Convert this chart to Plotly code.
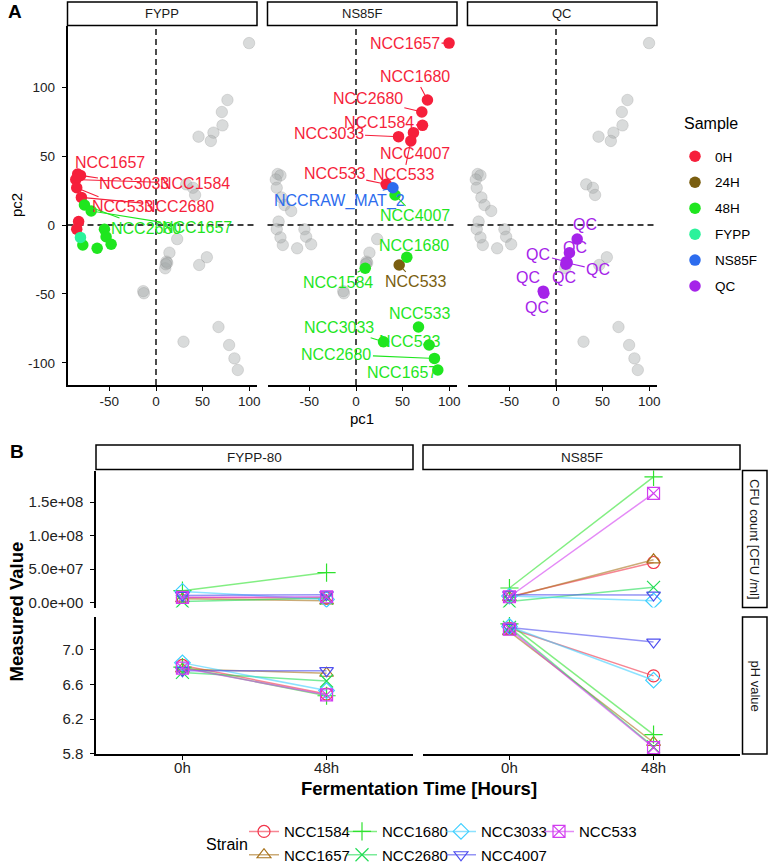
import plotly.graph_objects as go

W, H = 768, 864
FONT = "Liberation Sans, Arial, Helvetica, sans-serif"

# ---------------- panel A : PCA scores ----------------
pca_facet = ["FYPP"] * 15 + ["NS85F"] * 18 + ["QC"] * 7
pca_sample = (["0H"] * 7 + ["48H"] * 7 + ["FYPP"]
              + ["0H"] * 8 + ["NS85F"] + ["48H"] * 8 + ["24H"]
              + ["QC"] * 7)
pca_pc1 = [-84, -81, -86, -85, -80, -83, -85,
           -76.7, -69.5, -55.3, -53.5, -48.1, -63.1, -78.5,
           -81,
           99.8, 76.6, 70.6, 71.3, 45.6, 61.6, 58.8, 32.4,
           39.6,
           41.9, 54.5, 9.9, 67, 29.5, 78.4, 84.1, 87.7,
           46.3,
           22.7, 14.4, 11.2, 12.0, 10.5, -13.7, -13.0]
pca_pc2 = [37, 36, 33, 27, 20, 2.5, -3,
           14.5, 10.2, -3.1, -8.5, -14, -16.9, -14.5,
           -9,
           132, 90.7, 82, 72.3, 64.1, 67, 61, 29.5,
           27,
           21.8, -23.4, -31.4, -74, -84.7, -87.1, -96.8, -105.2,
           -29,
           -10.2, -20.1, -26.6, -27.5, -28.5, -48, -49.5]
pca_label = ["NCC1657", "NCC3033", "NCC1584", "NCC533", "NCC2680", "", "",
             "NCC2680", "NCC1657", "", "", "", "", "",
             "",
             "NCC1657", "NCC1680", "NCC2680", "NCC1584", "NCC3033", "NCC4007", "NCC533", "NCC533",
             "NCCRAW_MAT_2",
             "NCC4007", "NCC1680", "NCC1584", "NCC533", "NCC3033", "NCC533", "NCC2680", "NCC1657",
             "NCC533",
             "QC", "QC", "QC", "QC", "QC", "QC", "QC"]
# label placement (pixel offsets of the text from its point)
label_dx = [32, 54, 119, 46, 98, None, None,
            62, 106, None, None, None, None, None,
            None,
            -44, -12, -54, -43, -70, 2, -7, -52,
            -53,
            20, 7, -27, 1, -45, -20, -98, -36,
            16,
            8, 6, -28, 31, -2, -15, -7]
label_dy = [-12, 8, 4, 19, 9, None, None,
            23, 17, None, None, None, None, None,
            None,
            0, -23, -13, -3, -3, 21, 34, -11,
            13,
            21, -12, 14, -13, -14, -4, -4, 3,
            17,
            -15, -5, -7, 7, 13, -14, 14]

facets_a = ["FYPP", "NS85F", "QC"]
samples = ["0H", "24H", "48H", "FYPP", "NS85F", "QC"]
sample_colors = {"0H": "#F61F3B", "24H": "#7A5E10", "48H": "#1FE61F",
                 "FYPP": "#2BF29B", "NS85F": "#2D6CEE", "QC": "#A523E9"}

# ---------------- panel B : CFU and pH ----------------
strains = ["NCC1584", "NCC1657", "NCC1680", "NCC2680", "NCC3033", "NCC4007", "NCC533"]
times = ["0h", "48h"]
cfu_fypp_0h = [8e6, 6e6, 1.8e7, 2e6, 1.7e7, 1.1e7, 8e6]
cfu_fypp_48h = [7e6, 3e6, 4.5e7, 7e6, 5e6, 1.2e7, 9e6]
cfu_ns85f_0h = [9e6, 8e6, 2.2e7, 2e6, 1.0e7, 1.2e7, 9e6]
cfu_ns85f_48h = [6.0e7, 6.4e7, 1.875e8, 2.3e7, 3e6, 1.15e7, 1.63e8]
ph_fypp_0h = [6.82, 6.78, 6.80, 6.74, 6.85, 6.76, 6.79]
ph_fypp_48h = [6.49, 6.73, 6.47, 6.64, 6.53, 6.76, 6.48]
ph_ns85f_0h = [7.25, 7.21, 7.30, 7.26, 7.27, 7.26, 7.24]
ph_ns85f_48h = [6.70, 5.93, 6.02, 5.88, 6.65, 7.09, 5.87]

strain_colors = ["#F2344A", "#A8731C", "#2EE22E", "#22DD55", "#3FCFFF", "#4F4FEF", "#D23CF0"]
strain_symbols = ["circle-open", "triangle-up-open", "cross-thin-open", "x-thin-open",
                  "diamond-open", "triangle-down-open", "square-x-open"]


def fx(px):
    return px / W


def fy(py):
    return 1 - py / H


def rgba(hexc, a):
    h = hexc.lstrip("#")
    return "rgba(%d,%d,%d,%.2f)" % (int(h[0:2], 16), int(h[2:4], 16), int(h[4:6], 16), a)


def note(text, px, py, size, angle=0, color="black"):
    return dict(text=text, xref="paper", yref="paper", x=fx(px), y=fy(py),
                xanchor="center", yanchor="middle", showarrow=False, textangle=angle,
                font=dict(size=size, color=color))


fig = go.Figure()
layout = {}
shapes = []
annotations = []

A_LEFT = [67.5, 267.5, 467.5]
A_W = 189.5
A_TOP, A_BOT = 26, 385
XR_A = [-94.9, 108.3]
YR_A = [-116.1, 144.4]
axis_common = dict(showgrid=False, zeroline=False, linecolor="black", linewidth=1.5,
                   tickcolor="black", tickwidth=1.2, ticklen=4)

seen = set()
for i, fac in enumerate(facets_a):
    n = i + 1
    xa = "x" if n == 1 else "x%d" % n
    ya = "y" if n == 1 else "y%d" % n
    xkey = "xaxis" if n == 1 else "xaxis%d" % n
    ykey = "yaxis" if n == 1 else "yaxis%d" % n
    layout[xkey] = dict(domain=[fx(A_LEFT[i]), fx(A_LEFT[i] + A_W)], anchor=ya, range=XR_A,
                        showline=True, ticks="outside", tickvals=[-50, 0, 50, 100],
                        ticktext=["-50", "0", "50", "100"], ticklabelstandoff=-1,
                        tickfont=dict(size=13.5, color="#222"), **axis_common)
    if n == 1:
        layout[ykey] = dict(domain=[fy(A_BOT), fy(A_TOP)], anchor=xa, range=YR_A,
                            showline=True, ticks="outside", tickvals=[-100, -50, 0, 50, 100],
                            ticktext=["-100", "-50", "0", "50", "100"], ticklabelstandoff=4,
                            tickfont=dict(size=13.5, color="#222"), **axis_common)
    else:
        layout[ykey] = dict(domain=[fy(A_BOT), fy(A_TOP)], anchor=xa, range=YR_A,
                            showline=False, ticks="", showticklabels=False,
                            showgrid=False, zeroline=False)

    # reference lines
    shapes.append(dict(type="line", xref=xa, yref=ya + " domain", x0=0, x1=0, y0=0, y1=1,
                       line=dict(color="black", width=1.4, dash="6px,4px"), layer="below"))
    shapes.append(dict(type="line", xref=xa + " domain", yref=ya, x0=0, x1=1, y0=0, y1=0,
                       line=dict(color="black", width=1.4, dash="6px,4px"), layer="below"))
    # strip
    shapes.append(dict(type="rect", xref="paper", yref="paper", x0=fx(A_LEFT[i]),
                       x1=fx(A_LEFT[i] + A_W), y0=fy(25.5), y1=fy(2),
                       line=dict(color="black", width=1.5), fillcolor="white"))
    annotations.append(note(fac, A_LEFT[i] + A_W / 2, 13.7, 13, color="#1a1a1a"))

    # background (other facets) in grey
    gx = [pca_pc1[k] for k in range(len(pca_pc1)) if pca_facet[k] != fac]
    gy = [pca_pc2[k] for k in range(len(pca_pc2)) if pca_facet[k] != fac]
    fig.add_trace(go.Scatter(x=gx, y=gy, mode="markers", xaxis=xa, yaxis=ya, showlegend=False,
                             hoverinfo="skip",
                             marker=dict(size=11.5, color="rgba(165,170,170,0.42)",
                                         line=dict(width=0.6, color="rgba(120,120,120,0.35)"))))
    for s in samples:
        idx = [k for k in range(len(pca_pc1)) if pca_facet[k] == fac and pca_sample[k] == s]
        if not idx:
            continue
        fig.add_trace(go.Scatter(x=[pca_pc1[k] for k in idx], y=[pca_pc2[k] for k in idx],
                                 mode="markers", xaxis=xa, yaxis=ya, name=s,
                                 legendgroup=s, legendrank=samples.index(s),
                                 showlegend=s not in seen,
                                 marker=dict(size=11.5, color=sample_colors[s])))
        seen.add(s)
    for k in range(len(pca_pc1)):
        if pca_facet[k] != fac or not pca_label[k]:
            continue
        c = sample_colors[pca_sample[k]]
        annotations.append(dict(text=pca_label[k], x=pca_pc1[k], y=pca_pc2[k], xref=xa, yref=ya,
                                ax=label_dx[k], ay=label_dy[k], showarrow=True, arrowhead=0,
                                arrowwidth=1.1, arrowcolor=c, standoff=5,
                                font=dict(size=16, color=c)))

annotations.append(note("pc1", 362, 418, 15))
annotations.append(note("pc2", 17, 205, 15, angle=-90))
annotations.append(note("<b>A</b>", 15, 11, 19))
annotations.append(note("<b>B</b>", 16.5, 451.5, 19))

# ---------------- panel B layout ----------------
B_LEFT = [96, 423]
B_W = 317
B_ROWS = [(470.5, 607.5), (617, 754)]
XR_B = [-0.6, 1.6]
YR_CFU = [-7e6, 1.97e8]
YR_PH = [5.797, 7.38]
panels_b = [
    (4, 0, 0, cfu_fypp_0h, cfu_fypp_48h),
    (5, 1, 0, cfu_ns85f_0h, cfu_ns85f_48h),
    (6, 0, 1, ph_fypp_0h, ph_fypp_48h),
    (7, 1, 1, ph_ns85f_0h, ph_ns85f_48h),
]
for n, col, row, v0, v48 in panels_b:
    xa, ya = "x%d" % n, "y%d" % n
    top, bot = B_ROWS[row]
    bottom_row = row == 1
    layout["xaxis%d" % n] = dict(domain=[fx(B_LEFT[col]), fx(B_LEFT[col] + B_W)], anchor=ya,
                                 type="category", categoryorder="array", categoryarray=times,
                                 range=XR_B, showline=bottom_row, showticklabels=bottom_row,
                                 ticks="outside" if bottom_row else "", ticklabelstandoff=-5,
                                 tickfont=dict(size=15, color="#222"), **axis_common)
    if row == 0:
        yr, tv, tt = YR_CFU, [0, 5e7, 1e8, 1.5e8], ["0.0e+00", "5.0e+07", "1.0e+08", "1.5e+08"]
    else:
        yr, tv, tt = YR_PH, [5.8, 6.2, 6.6, 7.0], ["5.8", "6.2", "6.6", "7.0"]
    if col == 0:
        layout["yaxis%d" % n] = dict(domain=[fy(bot), fy(top)], anchor=xa, range=yr,
                                     showline=True, ticks="outside", tickvals=tv, ticktext=tt,
                                     ticklabelstandoff=4,
                                     tickfont=dict(size=15, color="#222"), **axis_common)
    else:
        layout["yaxis%d" % n] = dict(domain=[fy(bot), fy(top)], anchor=xa, range=yr,
                                     showline=False, ticks="", showticklabels=False,
                                     showgrid=False, zeroline=False)
    for j, st in enumerate(strains):
        c = strain_colors[j]
        fig.add_trace(go.Scatter(
            x=times, y=[v0[j], v48[j]], mode="lines+markers", xaxis=xa, yaxis=ya, name=st,
            legend="legend%d" % (j + 2), legendgroup=st, showlegend=(n == 4),
            line=dict(color=rgba(c, 0.6), width=1.5),
            marker=dict(symbol=strain_symbols[j], size=13 if "thin" in strain_symbols[j] else 12,
                        color=c, line=dict(width=1.2, color=c))))

for col, fac in enumerate(["FYPP-80", "NS85F"]):
    shapes.append(dict(type="rect", xref="paper", yref="paper", x0=fx(B_LEFT[col]),
                       x1=fx(B_LEFT[col] + B_W), y0=fy(469.5), y1=fy(445),
                       line=dict(color="black", width=1.5), fillcolor="white"))
    annotations.append(note(fac, B_LEFT[col] + B_W / 2, 457.5, 13.5, color="#1a1a1a"))
for row, lab in enumerate(["CFU count [CFU /ml]", "pH value"]):
    top, bot = B_ROWS[row]
    shapes.append(dict(type="rect", xref="paper", yref="paper", x0=fx(742.5), x1=fx(767),
                       y0=fy(bot), y1=fy(top), line=dict(color="black", width=1.5),
                       fillcolor="white"))
    annotations.append(note(lab, 755, (top + bot) / 2, 13, angle=90, color="#1a1a1a"))

annotations.append(note("<b>Measured Value</b>", 15.5, 612, 18.5, angle=-90))
annotations.append(note("<b>Fermentation Time [Hours]</b>", 419, 788, 18.5))
annotations.append(note("Strain", 227, 844, 16))
# title of the "Sample" legend drawn as text so the gap to the first key matches
annotations.append(dict(text="Sample", xref="paper", yref="paper", x=fx(682), y=fy(123),
                        xanchor="left", yanchor="middle", showarrow=False,
                        font=dict(size=16, color="black")))

# strain legend: 4 columns x 2 rows, filled column-wise
LEG_COLS = [244, 342, 441, 539]
LEG_ROWS = [831.7, 855]
for j in range(len(strains)):
    layout["legend%d" % (j + 2)] = dict(
        x=fx(LEG_COLS[j // 2]), y=fy(LEG_ROWS[j % 2]), xanchor="left", yanchor="middle",
        font=dict(size=15), bgcolor="rgba(0,0,0,0)")

fig.update_layout(
    width=W, height=H, margin=dict(l=0, r=0, t=0, b=0, autoexpand=False),
    paper_bgcolor="white", plot_bgcolor="white",
    font=dict(family=FONT, color="black"),
    shapes=shapes, annotations=annotations,
    legend=dict(x=fx(675), y=fy(141), xanchor="left", yanchor="top", font=dict(size=13.5),
                tracegroupgap=5.4, traceorder="grouped", bgcolor="rgba(0,0,0,0)"),
    **layout,
)

# drop the browser's default 8px page margin so the figure sits at the window origin
fig.write_html("out.html", config={"displayModeBar": False},
               post_script="document.body.style.margin='0px';")
